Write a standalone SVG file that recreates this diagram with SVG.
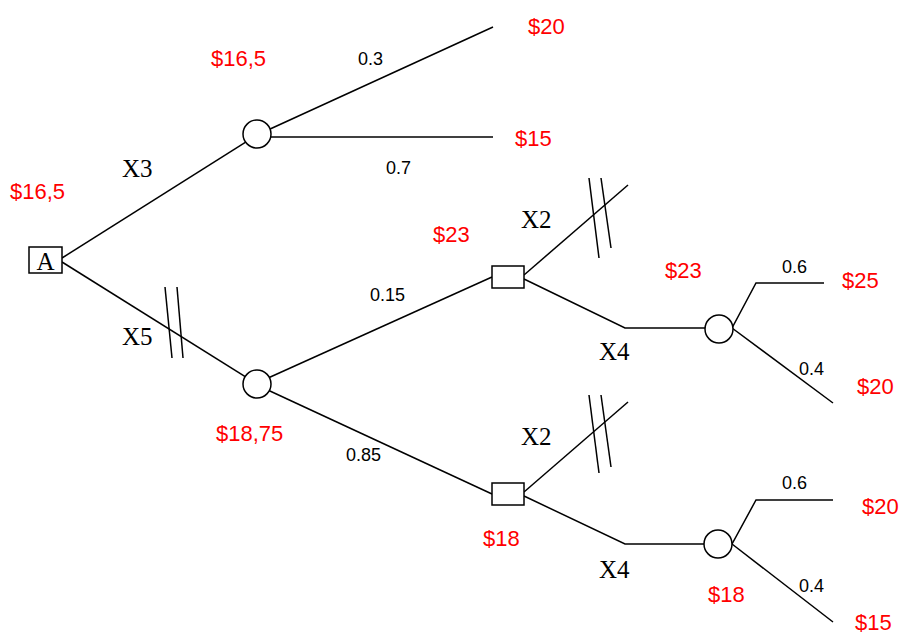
<svg xmlns="http://www.w3.org/2000/svg" width="900" height="635" viewBox="0 0 900 635">
  <style>
    .ln { stroke: #000; stroke-width: 1.5; fill: none; }
    .chance { stroke: #000; stroke-width: 1.5; fill: #fff; }
    .dec { stroke: #000; stroke-width: 1.5; fill: #fff; }
    .val { font-family: "Liberation Sans", Arial, sans-serif; font-size: 22px; fill: #ff0000; }
    .prob { font-family: "Liberation Sans", Arial, sans-serif; font-size: 18px; fill: #000; }
    .alt { font-family: "Liberation Serif", "Times New Roman", serif; font-size: 25px; fill: #000; }
  </style>
  <rect width="900" height="635" fill="#fff"/>

  <!-- branches -->
  <g id="connectors">
    <line class="ln" x1="62" y1="258" x2="257" y2="135"/>
    <line class="ln" x1="62" y1="262" x2="257" y2="384"/>
    <line class="ln" x1="257" y1="135" x2="493" y2="27"/>
    <line class="ln" x1="257" y1="137" x2="493" y2="137"/>
    <line class="ln" x1="257" y1="383" x2="492" y2="277"/>
    <line class="ln" x1="257" y1="385" x2="492" y2="494"/>
    <!-- upper decision -->
    <line class="ln" x1="524" y1="275" x2="628" y2="185"/>
    <polyline class="ln" points="524,279 625,328 719,328"/>
    <polyline class="ln" points="719,328 732,328 756,283 824,283"/>
    <line class="ln" x1="732" y1="328" x2="833" y2="403"/>
    <!-- lower decision -->
    <line class="ln" x1="524" y1="492" x2="628" y2="402"/>
    <polyline class="ln" points="524,496 625,544 718,544"/>
    <polyline class="ln" points="718,544 732,544 756,500 833,500"/>
    <line class="ln" x1="732" y1="544" x2="833" y2="622"/>
    <!-- pruned branches -->
    <line class="ln" x1="165" y1="287" x2="172" y2="358"/>
    <line class="ln" x1="177" y1="287" x2="183" y2="358"/>
    <line class="ln" x1="589" y1="178" x2="599" y2="258"/>
    <line class="ln" x1="601" y1="178" x2="611" y2="248"/>
    <line class="ln" x1="589" y1="395" x2="599" y2="473"/>
    <line class="ln" x1="601" y1="395" x2="611" y2="467"/>
  </g>

  <g id="nodeA">
    <rect class="dec" x="29" y="247" width="33" height="26"/>
    <text class="alt" x="45.5" y="270" text-anchor="middle" font-size="23">A</text>
    <text class="val" x="10" y="199">$16,5</text>
  </g>

  <g id="chanceX3">
    <circle class="chance" cx="257" cy="134" r="14"/>
    <text class="val" x="211" y="66">$16,5</text>
  </g>

  <g id="chanceX5">
    <circle class="chance" cx="257" cy="384" r="14"/>
    <text class="val" x="216" y="441">$18,75</text>
  </g>

  <g id="decisionUpper">
    <rect class="dec" x="492" y="266" width="32" height="22"/>
    <text class="val" x="433" y="242">$23</text>
  </g>

  <g id="decisionLower">
    <rect class="dec" x="492" y="483" width="32" height="22"/>
    <text class="val" x="483" y="546">$18</text>
  </g>

  <g id="chanceUpperX4">
    <circle class="chance" cx="719" cy="329" r="14"/>
    <text class="val" x="665" y="278">$23</text>
  </g>

  <g id="chanceLowerX4">
    <circle class="chance" cx="718" cy="544" r="14"/>
    <text class="val" x="708" y="602">$18</text>
  </g>

  <!-- branch labels -->
  <g id="labels">
    <text class="alt" x="122" y="177">X3</text>
    <text class="alt" x="122" y="345">X5</text>
    <text class="alt" x="521" y="228">X2</text>
    <text class="alt" x="599" y="360">X4</text>
    <text class="alt" x="521" y="445">X2</text>
    <text class="alt" x="599" y="578">X4</text>
    <text class="prob" x="358" y="65">0.3</text>
    <text class="prob" x="386" y="174">0.7</text>
    <text class="prob" x="370" y="301">0.15</text>
    <text class="prob" x="346" y="461">0.85</text>
    <text class="prob" x="782" y="273">0.6</text>
    <text class="prob" x="799" y="375">0.4</text>
    <text class="prob" x="782" y="489">0.6</text>
    <text class="prob" x="799" y="592">0.4</text>
  </g>

  <!-- payoffs -->
  <g id="leaves">
    <text class="val" x="528" y="34">$20</text>
    <text class="val" x="515" y="146">$15</text>
    <text class="val" x="842" y="288">$25</text>
    <text class="val" x="857" y="394">$20</text>
    <text class="val" x="862" y="514">$20</text>
    <text class="val" x="855" y="630">$15</text>
  </g>
</svg>
